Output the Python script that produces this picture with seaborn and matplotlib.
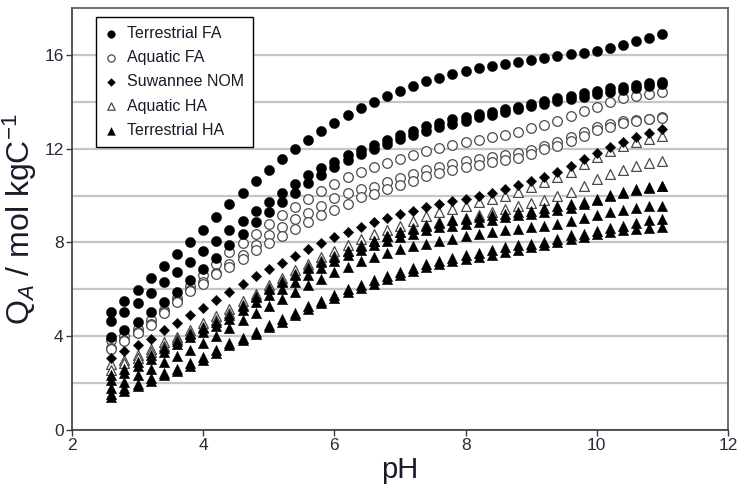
import numpy as np
import pandas as pd
import matplotlib
matplotlib.use("Agg")
import matplotlib.pyplot as plt
import seaborn as sns

# ---------------- data ----------------
ph = [2.6, 2.8, 3.0, 3.2, 3.4, 3.6, 3.8, 4.0, 4.2, 4.4, 4.6, 4.8, 5.0, 5.2, 5.4,
      5.6, 5.8, 6.0, 6.2, 6.4, 6.6, 6.8, 7.0, 7.2, 7.4, 7.6, 7.8, 8.0, 8.2, 8.4,
      8.6, 8.8, 9.0, 9.2, 9.4, 9.6, 9.8, 10.0, 10.2, 10.4, 10.6, 10.8, 11.0]

# Terrestrial FA (filled circles)
tfa_1 = [5.05, 5.52, 5.99, 6.5, 7.0, 7.5, 8.04, 8.55, 9.1, 9.62, 10.13, 10.63, 11.1, 11.55, 11.98,
         12.38, 12.75, 13.1, 13.43, 13.73, 14.0, 14.25, 14.48, 14.68, 14.87, 15.03, 15.18, 15.31, 15.42, 15.52,
         15.62, 15.71, 15.79, 15.87, 15.94, 16.02, 16.1, 16.18, 16.29, 16.42, 16.58, 16.74, 16.88]
tfa_2 = [4.64, 5.04, 5.43, 5.86, 6.3, 6.72, 7.15, 7.62, 8.07, 8.51, 8.92, 9.33, 9.74, 10.1, 10.5,
         10.88, 11.16, 11.44, 11.72, 11.93, 12.15, 12.38, 12.57, 12.76, 12.95, 13.1, 13.25, 13.37, 13.49, 13.58,
         13.68, 13.78, 13.9, 14.02, 14.14, 14.25, 14.36, 14.47, 14.57, 14.65, 14.72, 14.78, 14.85]
tfa_3 = [3.95, 4.27, 4.62, 5.03, 5.45, 5.9, 6.38, 6.85, 7.35, 7.88, 8.38, 8.86, 9.3, 9.73, 10.13,
         10.52, 10.88, 11.2, 11.5, 11.76, 11.98, 12.2, 12.4, 12.58, 12.76, 12.92, 13.06, 13.2, 13.33, 13.45,
         13.57, 13.69, 13.8, 13.91, 14.02, 14.12, 14.22, 14.33, 14.43, 14.52, 14.6, 14.68, 14.75]

# Aquatic FA (open circles)
afa_1 = [3.85, 4.02, 4.3, 4.68, 5.1, 5.65, 6.15, 6.62, 7.09, 7.59, 7.97, 8.37, 8.77, 9.15, 9.5,
         9.86, 10.18, 10.5, 10.78, 10.99, 11.21, 11.4, 11.58, 11.75, 11.9, 12.03, 12.14, 12.27, 12.37, 12.48,
         12.6, 12.72, 12.88, 13.02, 13.19, 13.38, 13.6, 13.79, 13.97, 14.15, 14.26, 14.33, 14.4]
afa_2 = [3.5, 3.83, 4.18, 4.54, 5.02, 5.5, 5.97, 6.3, 6.7, 7.09, 7.45, 7.87, 8.3, 8.65, 8.98,
         9.26, 9.57, 9.88, 10.1, 10.28, 10.38, 10.56, 10.76, 10.92, 11.1, 11.23, 11.35, 11.49, 11.56, 11.63,
         11.72, 11.82, 11.95, 12.13, 12.27, 12.48, 12.7, 12.91, 13.05, 13.18, 13.24, 13.28, 13.36]
afa_3 = [3.45, 3.8, 4.15, 4.5, 4.98, 5.45, 5.92, 6.24, 6.65, 6.97, 7.3, 7.66, 7.97, 8.26, 8.58,
         8.87, 9.18, 9.4, 9.66, 9.92, 10.07, 10.28, 10.47, 10.64, 10.84, 10.95, 11.09, 11.2, 11.32, 11.42,
         11.5, 11.6, 11.77, 11.99, 12.13, 12.34, 12.55, 12.79, 12.94, 13.1, 13.2, 13.25, 13.3]

# Suwannee NOM (diamonds)
nom = [3.05, 3.35, 3.62, 3.9, 4.26, 4.58, 4.9, 5.22, 5.53, 5.89, 6.24, 6.55, 6.87, 7.13, 7.42,
       7.7, 7.97, 8.22, 8.44, 8.65, 8.87, 9.05, 9.22, 9.36, 9.5, 9.64, 9.75, 9.86, 9.99, 10.1,
       10.27, 10.43, 10.61, 10.79, 11.0, 11.25, 11.54, 11.82, 12.06, 12.3, 12.5, 12.68, 12.84]

# Aquatic HA (open triangles)
aha_1 = [2.8, 3.0, 3.2, 3.47, 3.76, 3.97, 4.28, 4.56, 4.85, 5.18, 5.5, 5.82, 6.17, 6.5, 6.81,
         7.09, 7.38, 7.64, 7.87, 8.14, 8.37, 8.53, 8.72, 8.93, 9.13, 9.29, 9.43, 9.57, 9.72, 9.86,
         10.0, 10.17, 10.35, 10.56, 10.78, 11.02, 11.33, 11.65, 11.92, 12.12, 12.3, 12.43, 12.55]
aha_2 = [2.58, 2.85, 3.05, 3.32, 3.6, 3.88, 4.15, 4.4, 4.68, 4.98, 5.35, 5.72, 6.05, 6.35, 6.65,
         6.95, 7.2, 7.42, 7.65, 7.88, 8.08, 8.28, 8.45, 8.6, 8.74, 8.87, 8.97, 9.06, 9.17, 9.3,
         9.43, 9.57, 9.69, 9.83, 10.0, 10.16, 10.42, 10.7, 10.92, 11.1, 11.25, 11.38, 11.49]

# Terrestrial HA (filled triangles)
tha_1 = [2.34, 2.6, 2.9, 3.2, 3.5, 3.8, 4.08, 4.33, 4.62, 4.9, 5.3, 5.68, 6.0, 6.3, 6.6,
         6.9, 7.15, 7.38, 7.62, 7.85, 8.05, 8.28, 8.44, 8.58, 8.72, 8.85, 8.94, 9.01, 9.08, 9.15,
         9.22, 9.29, 9.36, 9.48, 9.57, 9.65, 9.72, 9.86, 10.02, 10.14, 10.26, 10.35, 10.42]
tha_2 = [2.13, 2.42, 2.72, 3.02, 3.33, 3.65, 3.95, 4.18, 4.45, 4.72, 5.1, 5.48, 5.76, 6.02, 6.32,
         6.6, 6.9, 7.2, 7.45, 7.66, 7.87, 8.08, 8.23, 8.37, 8.51, 8.65, 8.72, 8.8, 8.87, 8.96,
         9.08, 9.15, 9.22, 9.29, 9.37, 9.45, 9.66, 9.82, 9.99, 10.12, 10.24, 10.33, 10.4]
tha_3 = [1.81, 2.06, 2.34, 2.6, 2.88, 3.15, 3.42, 3.7, 4.0, 4.33, 4.68, 5.0, 5.27, 5.58, 5.89,
         6.17, 6.45, 6.72, 6.95, 7.2, 7.38, 7.55, 7.7, 7.84, 7.95, 8.06, 8.16, 8.27, 8.36, 8.44,
         8.51, 8.58, 8.65, 8.72, 8.8, 8.92, 9.06, 9.18, 9.29, 9.4, 9.48, 9.54, 9.57]
tha_4 = [1.55, 1.8, 1.98, 2.2, 2.45, 2.62, 2.85, 3.1, 3.4, 3.72, 3.92, 4.2, 4.5, 4.72, 5.0,
         5.28, 5.5, 5.77, 6.0, 6.2, 6.38, 6.58, 6.74, 6.93, 7.08, 7.22, 7.34, 7.45, 7.54, 7.66,
         7.8, 7.87, 7.94, 8.03, 8.16, 8.3, 8.38, 8.5, 8.62, 8.72, 8.85, 8.94, 9.02]
tha_5 = [1.42, 1.65, 1.86, 2.08, 2.33, 2.52, 2.74, 3.0, 3.3, 3.62, 3.82, 4.1, 4.4, 4.62, 4.9,
         5.18, 5.4, 5.65, 5.88, 6.06, 6.24, 6.45, 6.6, 6.8, 6.95, 7.09, 7.2, 7.3, 7.38, 7.47,
         7.59, 7.68, 7.8, 7.88, 8.01, 8.16, 8.24, 8.37, 8.46, 8.52, 8.59, 8.63, 8.66]

legend_order = ["Terrestrial FA", "Aquatic FA", "Suwannee NOM", "Aquatic HA", "Terrestrial HA"]
groups = {
    "Aquatic FA": [afa_1, afa_2, afa_3],
    "Aquatic HA": [aha_1, aha_2],
    "Terrestrial FA": [tfa_1, tfa_2, tfa_3],
    "Suwannee NOM": [nom],
    "Terrestrial HA": [tha_1, tha_2, tha_3, tha_4, tha_5],
}

rows = []
for g, series in groups.items():
    for k, vals in enumerate(series):
        for p, v in zip(ph, vals):
            rows.append({"pH": p, "Q": v, "group": g, "series": k})
df = pd.DataFrame(rows)

# ---------------- style ----------------
sns.set_theme(style="white")
plt.rcParams["font.family"] = ["Liberation Sans", "DejaVu Sans"]
plt.rcParams["mathtext.fontset"] = "custom"
plt.rcParams["mathtext.rm"] = "Liberation Sans"
plt.rcParams["mathtext.it"] = "Liberation Sans:italic"

fig = plt.figure(figsize=(7.37, 4.95), dpi=100)
ax = fig.add_axes([72 / 737, 1 - 430 / 495, 656 / 737, 422 / 495])

styles = {
    "Aquatic FA": dict(marker="o", s=48, color="white", edgecolor="#4a4a4a", linewidth=0.9),
    "Aquatic HA": dict(marker="^", s=50, color="white", edgecolor="#4a4a4a", linewidth=0.9),
    "Terrestrial FA": dict(marker="o", s=54, color="black", edgecolor="black", linewidth=0.3),
    "Suwannee NOM": dict(marker="D", s=28, color="black", edgecolor="black", linewidth=0.3),
    "Terrestrial HA": dict(marker="^", s=56, color="black", edgecolor="black", linewidth=0.3),
}
for g in ["Aquatic FA", "Aquatic HA", "Terrestrial FA", "Suwannee NOM", "Terrestrial HA"]:
    sub = df[df["group"] == g]
    sns.scatterplot(data=sub, x="pH", y="Q", ax=ax, label=g, zorder=3, **styles[g])

ax.set_xlim(2, 12)
ax.set_ylim(0, 18)
ax.set_xticks([2, 4, 6, 8, 10, 12])
ax.set_yticks([0, 4, 8, 12, 16])
ax.set_yticks([2, 6, 10, 14], minor=True)

ax.grid(axis="y", which="both", color="#c6c6c6", linewidth=1.6, zorder=0)
ax.grid(axis="x", visible=False)
for t in ax.yaxis.get_minor_ticks():
    t.tick1line.set_visible(False)
    if abs(t.get_loc() - 10) < 1e-6:
        t.gridline.set_color("#7a7a7a")
        t.gridline.set_linewidth(1.3)
ax.set_axisbelow(True)

for sp in ax.spines.values():
    sp.set_color("#3a3a3a")
    sp.set_linewidth(1.2)
ax.spines["top"].set_color("#555555")
ax.spines["right"].set_color("#555555")

ax.tick_params(axis="both", which="major", direction="out", length=4, width=1,
               color="#3a3a3a", labelsize=12.5, labelcolor="#2a2a3a", pad=2,
               left=True, bottom=True)

ax.set_xlabel("pH", fontsize=21, color="#1a1a2a", labelpad=2)
ax.set_ylabel(r"Q$_{A}$ / mol kgC$^{-1}$", fontsize=23, color="#1a1a2a", labelpad=4)

handles, labels = ax.get_legend_handles_labels()
hmap = dict(zip(labels, handles))
leg = ax.legend([hmap[l] for l in legend_order], legend_order,
                loc="upper left", bbox_to_anchor=(24 / 656, 413 / 422), borderaxespad=0,
                frameon=True, fancybox=False, framealpha=1, edgecolor="black",
                fontsize=11.5, markerscale=0.75, handlelength=0.8, handletextpad=0.6,
                labelspacing=0.58, borderpad=0.55)
leg.get_frame().set_linewidth(1.0)
for t in leg.get_texts():
    t.set_color("#1a1a2a")

fig.savefig("out.png", dpi=100)
